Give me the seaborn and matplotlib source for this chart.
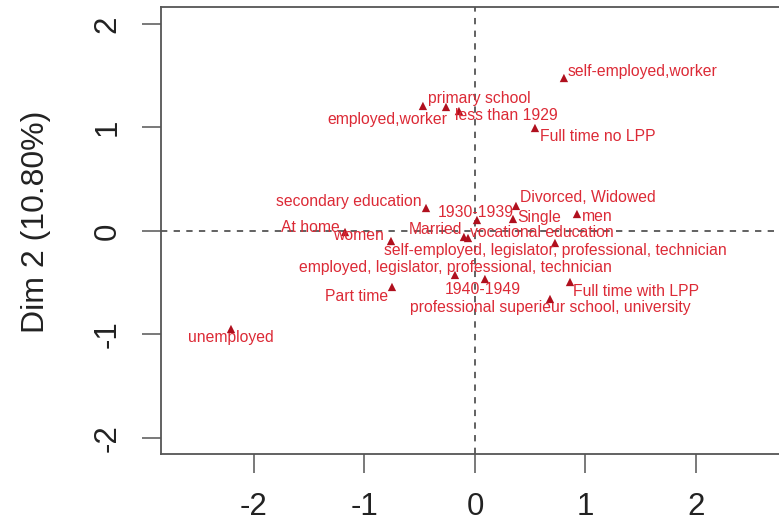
import matplotlib
matplotlib.use("Agg")
import matplotlib.pyplot as plt
import seaborn as sns
import pandas as pd

# ---- data (MCA category coordinates) ----
categories = [
    "self-employed,worker", "primary school", "employed,worker", "less than 1929",
    "Full time no LPP", "secondary education", "Divorced, Widowed", "1930-1939",
    "Single", "men", "At home", "women", "Married", "vocational education",
    "self-employed, legislator, professional, technician",
    "employed, legislator, professional, technician",
    "Part time", "1940-1949", "Full time with LPP",
    "professional superieur school, university", "unemployed",
]
dim1 = [0.805, -0.471, -0.262, -0.145, 0.543, -0.443, 0.371, 0.018, 0.344, 0.923,
        -1.176, -0.760, -0.100, -0.063, 0.724, -0.181, -0.751, 0.090, 0.860, 0.679, -2.208]
dim2 = [1.478, 1.208, 1.198, 1.159, 0.995, 0.222, 0.242, 0.106, 0.116, 0.164,
        -0.010, -0.097, -0.058, -0.068, -0.116, -0.425, -0.541, -0.464, -0.493, -0.657, -0.947]
x_ticks = [-2, -1, 0, 1, 2]
y_ticks = [-2, -1, 0, 1, 2]
y_label = "Dim 2 (10.80%)"

# ---- label placement (pixel offsets from marker, horizontal alignment) ----
label_layout = {
    "self-employed,worker": (4, -6, "left"),
    "primary school": (5, -7, "left"),
    "employed,worker": (1, 13, "right"),
    "less than 1929": (-4, 4, "left"),
    "Full time no LPP": (5, 9, "left"),
    "secondary education": (-4, -6, "right"),
    "Divorced, Widowed": (4, -8, "left"),
    "1930-1939": (-1, -7, "center"),
    "Single": (4, -1, "left"),
    "men": (5, 3, "left"),
    "At home": (-5, -4, "right"),
    "women": (-7, -5, "right"),
    "Married": (-2, -7, "right"),
    "vocational education": (2, -5, "left"),
    "self-employed, legislator, professional, technician": (0, 8, "center"),
    "employed, legislator, professional, technician": (0, -7, "center"),
    "Part time": (-4, 10, "right"),
    "1940-1949": (-2, 11, "center"),
    "Full time with LPP": (3, 10, "left"),
    "professional superieur school, university": (0, 9, "center"),
    "unemployed": (0, 9, "center"),
}

df = pd.DataFrame({"category": categories, "Dim1": dim1, "Dim2": dim2})

sns.set_style("white")
plt.rcParams["font.family"] = ["Liberation Sans", "DejaVu Sans"]

W, H = 779, 526
fig = plt.figure(figsize=(W / 100, H / 100), dpi=100)
left_px, right_px, top_px, bottom_px = 160.7, 789.0, 7.3, 454.0
ax = fig.add_axes([left_px / W, 1 - bottom_px / H,
                   (right_px - left_px) / W, (bottom_px - top_px) / H])

frame_col = "#555555"
ax.axhline(0, color=frame_col, lw=1.3, ls=(0, (3.5, 3.5)), zorder=1)
ax.axvline(0, color=frame_col, lw=1.3, ls=(0, (3.5, 3.5)), zorder=1)

sns.scatterplot(data=df, x="Dim1", y="Dim2", marker="^", s=36,
                color="#B0101E", edgecolor="none", ax=ax, zorder=3, legend=False)

px2pt = 0.72
for cat, xv, yv in zip(categories, dim1, dim2):
    dx, dy, ha = label_layout[cat]
    ax.annotate(cat, (xv, yv), xytext=(dx * px2pt, -dy * px2pt),
                textcoords="offset points", ha=ha, va="center",
                fontsize=11.3, color="#DC2A36", zorder=4)

ax.set_xlim(-2.844, 2.842)
ax.set_ylim(-2.155, 2.161)
ax.set_xticks(x_ticks)
ax.set_yticks(y_ticks)
ax.set_xticklabels([str(t) for t in x_ticks])
ax.set_yticklabels([str(t) for t in y_ticks], rotation=90, va="center")
ax.tick_params(axis="both", which="major", direction="out", length=13.5,
               width=1.1, color=frame_col, labelsize=22.5,
               labelcolor="#222222", bottom=True, left=True)
ax.tick_params(axis="x", pad=14)
ax.tick_params(axis="y", pad=14)
ax.set_xlabel("")
ax.set_ylabel(y_label, fontsize=23, color="#222222", va="center")
ax.yaxis.set_label_coords((36 - left_px) / (right_px - left_px),
                          (bottom_px - 222) / (bottom_px - top_px))
for sp in ax.spines.values():
    sp.set_color(frame_col)
    sp.set_linewidth(1.3)

fig.savefig("out.png", dpi=100)
